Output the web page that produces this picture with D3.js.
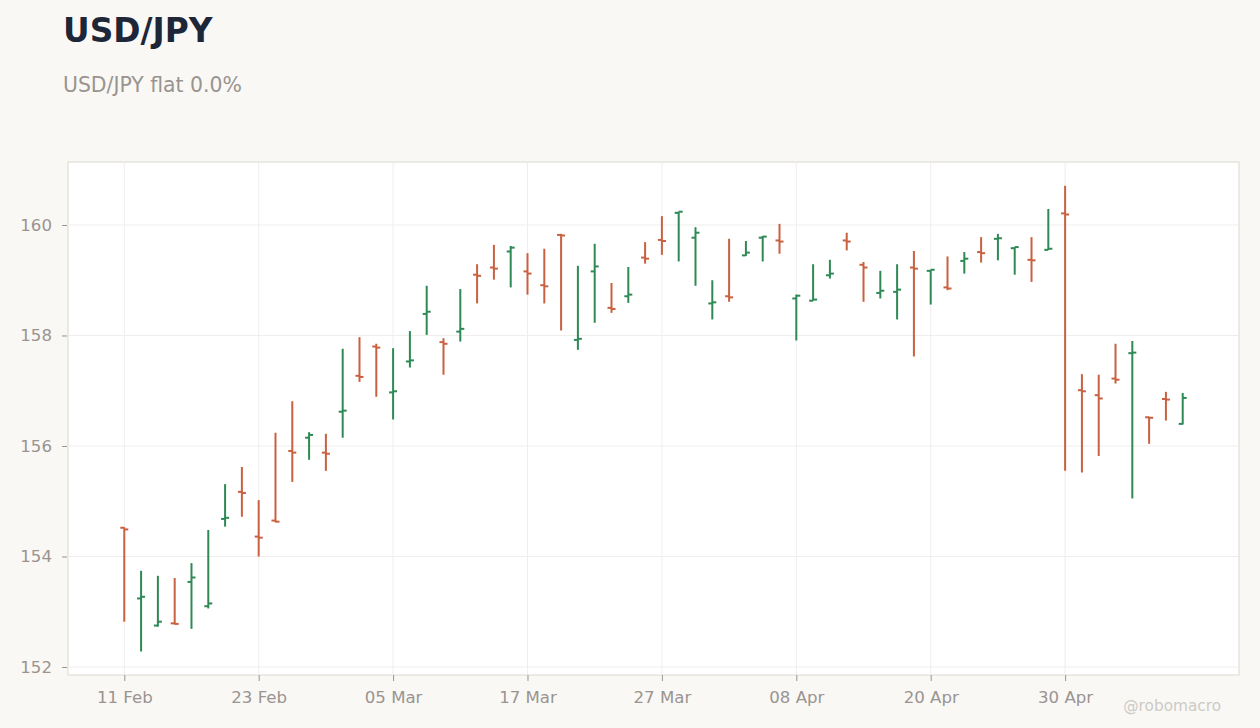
<!DOCTYPE html>
<html>
<head>
<meta charset="utf-8">
<script src="https://cdn.jsdelivr.net/npm/d3@7"></script>
<style>
  body { margin: 0; background: #f9f8f5; font-family: "DejaVu Sans", sans-serif; }
  .axis text { fill: #999490; font-size: 16.6px; font-family: "DejaVu Sans", sans-serif; }
  .axis line { stroke: #999490; }
  .axis path { display: none; }
</style>
</head>
<body>
<div id="chart"></div>
<script>
// OHLC bars, one per trading session
var opens = [154.52, 153.24, 152.75, 152.79, 153.54, 153.10, 154.68, 155.17, 154.36, 154.65,
             155.91, 156.15, 155.88, 156.62, 157.27, 157.80, 156.97, 157.53, 158.39, 157.88,
             158.07, 159.10, 159.23, 159.52, 159.16, 158.91, 159.82, 157.92, 159.16, 158.50,
             158.71, 159.41, 159.73, 160.22, 159.77, 158.58, 158.71, 159.45, 159.77, 159.72,
             158.67, 158.63, 159.09, 159.72, 159.28, 158.77, 158.79, 159.23, 159.17, 158.87,
             159.35, 159.51, 159.75, 159.58, 159.37, 159.55, 160.21, 157.01, 156.92, 157.22,
             157.68, 156.52, 156.85, 156.40];
var highs = [154.53, 153.74, 153.65, 153.61, 153.88, 154.48, 155.31, 155.62, 155.02, 156.24,
             156.81, 156.25, 156.22, 157.76, 157.97, 157.85, 157.77, 158.08, 158.90, 157.95,
             158.84, 159.29, 159.64, 159.62, 159.49, 159.57, 159.84, 159.26, 159.66, 158.95,
             159.24, 159.69, 160.16, 160.24, 159.96, 159.00, 159.75, 159.71, 159.80, 160.02,
             158.74, 159.29, 159.37, 159.86, 159.33, 159.17, 159.29, 159.53, 159.19, 159.43,
             159.51, 159.78, 159.84, 159.60, 159.78, 160.29, 160.71, 157.30, 157.29, 157.85,
             157.90, 156.53, 156.98, 156.96];
var lows = [152.82, 152.28, 152.73, 152.77, 152.69, 153.06, 154.54, 154.72, 154.00, 154.62,
            155.35, 155.75, 155.55, 156.15, 157.16, 156.89, 156.48, 157.42, 158.01, 157.29,
            157.89, 158.58, 159.01, 158.87, 158.74, 158.58, 158.09, 157.74, 158.23, 158.41,
            158.59, 159.30, 159.46, 159.34, 158.90, 158.29, 158.61, 159.44, 159.34, 159.48,
            157.91, 158.63, 159.03, 159.54, 158.61, 158.67, 158.29, 157.62, 158.56, 158.82,
            159.12, 159.32, 159.36, 159.10, 158.97, 159.55, 155.55, 155.52, 155.82, 157.13,
            155.05, 156.04, 156.46, 156.39];
var closes = [154.49, 153.27, 152.82, 152.78, 153.62, 153.15, 154.70, 155.15, 154.34, 154.63,
              155.88, 156.20, 155.86, 156.64, 157.25, 157.78, 156.99, 157.55, 158.43, 157.85,
              158.12, 159.08, 159.21, 159.59, 159.12, 158.89, 159.81, 157.94, 159.25, 158.48,
              158.74, 159.39, 159.71, 160.24, 159.86, 158.60, 158.69, 159.50, 159.79, 159.70,
              158.72, 158.65, 159.12, 159.70, 159.23, 158.81, 158.83, 159.21, 159.19, 158.85,
              159.39, 159.49, 159.76, 159.60, 159.36, 159.57, 160.19, 156.99, 156.86, 157.20,
              157.69, 156.51, 156.84, 156.87];

var tickIndex = [0, 8, 16, 24, 32, 40, 48, 56];
var tickLabels = ["11 Feb", "23 Feb", "05 Mar", "17 Mar", "27 Mar", "08 Apr", "20 Apr", "30 Apr"];
var yTicks = [152, 154, 156, 158, 160];

var W = 1260, H = 728;
var plot = { left: 68, right: 1239, top: 162, bottom: 675 };
var up = "#2e8a55", down = "#c9603f";

var bars = opens.map(function (o, i) {
    return { i: i, o: o, h: highs[i], l: lows[i], c: closes[i] };
});

var svg = d3.select("#chart").append("svg")
    .attr("width", W)
    .attr("height", H);

svg.append("text")
    .attr("x", 63).attr("y", 42)
    .style("font-size", "32.8px").style("font-weight", "bold")
    .style("fill", "#1d2738")
    .text("USD/JPY");

svg.append("text")
    .attr("x", 63).attr("y", 92)
    .style("font-size", "20.4px")
    .style("fill", "#999490")
    .text("USD/JPY flat 0.0%");

var x = d3.scalePoint()
    .domain(bars.map(function (d) { return d.i; }))
    .range([plot.left, plot.right])
    .padding(3.35);

var y = d3.scaleLinear()
    .domain([151.855, 161.14])
    .range([plot.bottom, plot.top]);

svg.append("rect")
    .attr("x", plot.left).attr("y", plot.top)
    .attr("width", plot.right - plot.left)
    .attr("height", plot.bottom - plot.top)
    .attr("fill", "#ffffff")
    .attr("stroke", "#dcd8d0");

// grid
svg.append("g").selectAll("line.gy")
    .data(yTicks).enter().append("line")
    .attr("x1", plot.left + 1).attr("x2", plot.right - 1)
    .attr("y1", function (d) { return y(d); })
    .attr("y2", function (d) { return y(d); })
    .attr("stroke", "#efeeec");

svg.append("g").selectAll("line.gx")
    .data(tickIndex).enter().append("line")
    .attr("y1", plot.top + 1).attr("y2", plot.bottom - 1)
    .attr("x1", function (d) { return x(d); })
    .attr("x2", function (d) { return x(d); })
    .attr("stroke", "#efeeec");

var xAxis = d3.axisBottom(x)
    .tickValues(tickIndex)
    .tickFormat(function (d, k) { return tickLabels[k]; })
    .tickSizeInner(6).tickSizeOuter(0).tickPadding(10);

svg.append("g")
    .attr("class", "axis")
    .attr("transform", "translate(0," + plot.bottom + ")")
    .call(xAxis);

var yAxis = d3.axisLeft(y)
    .tickValues(yTicks)
    .tickFormat(d3.format("d"))
    .tickSizeInner(5).tickSizeOuter(0).tickPadding(10);

svg.append("g")
    .attr("class", "axis")
    .attr("transform", "translate(" + (plot.left - 1) + ",0)")
    .call(yAxis);

// ohlc marks
var g = svg.append("g")
    .selectAll("g")
    .data(bars)
    .enter().append("g")
    .attr("stroke", function (d) { return d.c >= d.o ? up : down; })
    .attr("stroke-width", 2);

g.append("line")
    .attr("x1", function (d) { return x(d.i); })
    .attr("x2", function (d) { return x(d.i); })
    .attr("y1", function (d) { return y(d.h); })
    .attr("y2", function (d) { return y(d.l); });

g.append("line")
    .attr("x1", function (d) { return x(d.i) - 4; })
    .attr("x2", function (d) { return x(d.i); })
    .attr("y1", function (d) { return y(d.o); })
    .attr("y2", function (d) { return y(d.o); });

g.append("line")
    .attr("x1", function (d) { return x(d.i); })
    .attr("x2", function (d) { return x(d.i) + 4; })
    .attr("y1", function (d) { return y(d.c); })
    .attr("y2", function (d) { return y(d.c); });

svg.append("text")
    .attr("x", 1221).attr("y", 711)
    .attr("text-anchor", "end")
    .style("font-size", "15.3px")
    .style("fill", "#cdcac5")
    .text("@robomacro");
</script>
</body>
</html>
